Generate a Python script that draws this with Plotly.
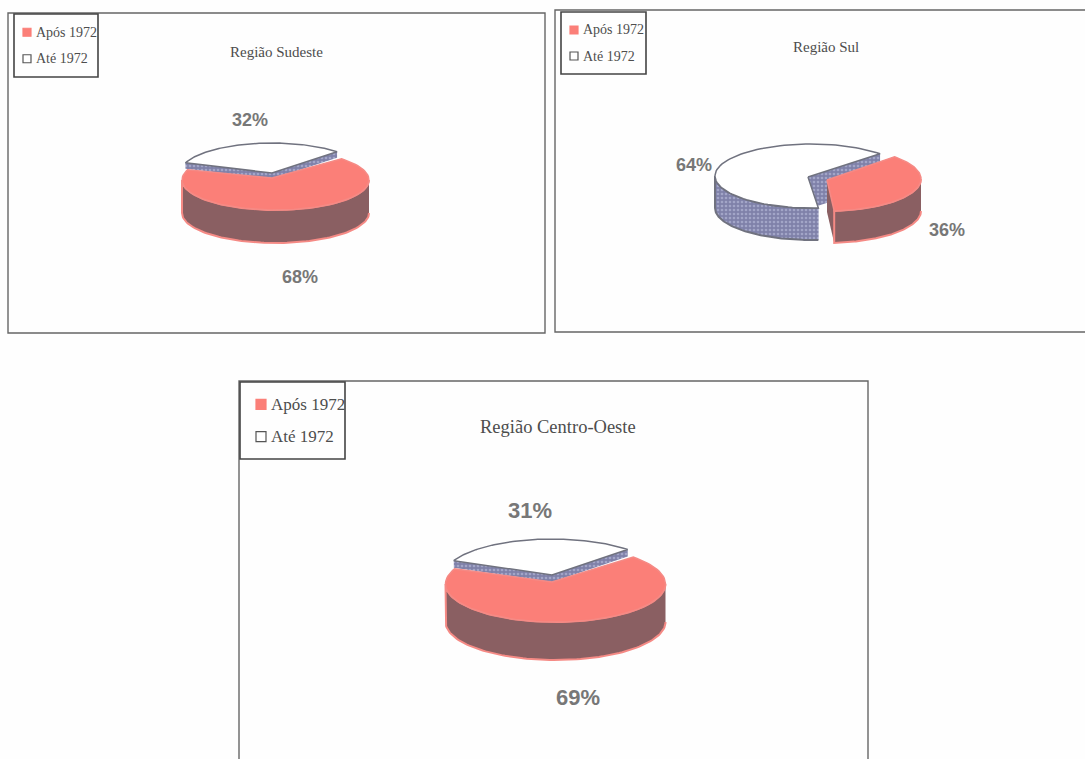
import numpy as np
import plotly.graph_objects as go

# ---- data ----
regions = ["Região Sudeste", "Região Sul", "Região Centro-Oeste"]
series_names = ["Após 1972", "Até 1972"]
apos_1972 = [68, 36, 69]
ate_1972 = [32, 64, 31]

# ---- layout of each panel (pixels of the page) ----
panels = [
    dict(box=(8, 13, 545, 333), legend=(14, 14, 98, 77), title=(276, 52, 15), legend_font=14,
         sw_x=27, text_x=34, sw_size=8,
         red=(275.5, 180, 93.5, 30), red_v=(272, 178), white=(272, 173, 92, 30), white_v=(272, 173),
         depth=33, white_depth=6,
         start=45, lab_red=(300, 277), lab_white=(250, 120), lab_font=18),
    dict(box=(555, 10, 1090, 332), legend=(561, 12, 646, 74), title=(826, 47, 15), legend_font=14,
         sw_x=574, text_x=581, sw_size=8,
         red=(827, 179, 94, 32), red_v=(827, 180), white=(811, 176, 96, 32), white_v=(808, 177),
         depth=32, white_depth=32,
         start=46, lab_red=(947, 230), lab_white=(694, 165), lab_font=18),
    dict(box=(239, 381, 868, 770), legend=(240, 382, 345, 459), title=(558, 427, 18.5), legend_font=17,
         sw_x=261, text_x=269, sw_size=10,
         red=(555.5, 584, 110, 38), red_v=(552, 582), white=(552, 575, 107, 36), white_v=(552, 575),
         depth=38, white_depth=7,
         start=45, lab_red=(578, 697), lab_white=(530, 510), lab_font=22),
]

RED_TOP = "#fb7f78"
RED_SIDE = "#8a5f62"
RED_EDGE = "#f58a85"
BLUE = "#7f81a9"
DOT = "#c6c9e6"
TEXT = "#4d4d4d"
LABEL = "#777777"
FONT = "Liberation Serif"


def arc(g, a, b, dy=0.0, n=90):
    cx, cy, rx, ry = g
    t = np.radians(np.linspace(a, b, n))
    return cx + rx * np.sin(t), cy - ry * np.cos(t) + dy


def poly(fig, x, y, fill, line=None, width=0, pattern=None):
    fig.add_trace(go.Scatter(
        x=list(x), y=list(y), mode="lines", fill="toself", fillcolor=fill,
        line=dict(color=line or fill, width=width), fillpattern=pattern,
        hoverinfo="skip", showlegend=False))


def slice3d(fig, g, v, a, b, depth, top, side, edge, pattern=None, top_width=1.5):
    vx, vy = v
    # two cut faces
    for ang in (a, b):
        ex, ey = arc(g, ang, ang, n=1)
        poly(fig, [vx, vx, ex[0], ex[0], vx], [vy, vy + depth, ey[0] + depth, ey[0], vy], side, pattern=pattern)
    # outer wall: only the front half of the ellipse is seen
    for k in (0, 1):
        lo = max(a, 90 + 360 * k)
        hi = min(b, 270 + 360 * k)
        if lo < hi:
            x1, y1 = arc(g, lo, hi)
            x2, y2 = arc(g, hi, lo, dy=depth)
            poly(fig, np.r_[x1, x2], np.r_[y1, y2], side, line=edge, width=2, pattern=pattern)
    # top
    x, y = arc(g, a, b)
    poly(fig, np.r_[vx, x, vx], np.r_[vy, y, vy], top, line=edge, width=top_width)


fig = go.Figure()
shapes, notes = [], []

for name, v_red, v_white, p in zip(regions, apos_1972, ate_1972, panels):
    total = v_red + v_white
    red_span = 360 * v_red / total
    a_red = p["start"]
    b_red = a_red + red_span
    b_white = a_red + 360

    pattern = dict(shape=".", bgcolor=BLUE, fgcolor=DOT, size=4, solidity=0.35)
    slice3d(fig, p["white"], p["white_v"], b_red, b_white, p["white_depth"], "#ffffff", BLUE, "#70727f", pattern)
    slice3d(fig, p["red"], p["red_v"], a_red, b_red, p["depth"], RED_TOP, RED_SIDE, RED_EDGE)

    x0, y0, x1, y1 = p["box"]
    shapes.append(dict(type="rect", x0=x0, y0=y0, x1=x1, y1=y1, xref="x", yref="y",
                       line=dict(color="#666666", width=1.4), layer="below"))
    lx0, ly0, lx1, ly1 = p["legend"]
    shapes.append(dict(type="rect", x0=lx0, y0=ly0, x1=lx1, y1=ly1, xref="x", yref="y",
                       line=dict(color="#444444", width=1.6), layer="below"))

    tx, ty, tf = p["title"]
    notes.append(dict(x=tx, y=ty, text=name, showarrow=False, xanchor="center", yanchor="middle",
                      font=dict(family=FONT, size=tf, color=TEXT)))

    lh = ly1 - ly0
    fs = p["legend_font"]
    ys = [ly0 + lh * 0.29, ly0 + lh * 0.71]
    fig.add_trace(go.Scatter(
        x=[p["sw_x"], p["sw_x"]], y=ys, mode="markers", hoverinfo="skip", showlegend=False,
        marker=dict(symbol="square", size=p["sw_size"], color=[RED_TOP, "#ffffff"],
                    line=dict(color=[RED_TOP, "#555555"], width=1.2))))
    for yy, s in zip(ys, series_names):
        notes.append(dict(x=p["text_x"], y=yy, text=s, showarrow=False, xanchor="left", yanchor="middle",
                          font=dict(family=FONT, size=fs, color=TEXT)))

    for (lx, ly), v in ((p["lab_red"], v_red), (p["lab_white"], v_white)):
        notes.append(dict(x=lx, y=ly, text=f"<b>{v}%</b>", showarrow=False, xanchor="center", yanchor="middle",
                          font=dict(family="Liberation Sans", size=p["lab_font"], color=LABEL)))

fig.update_layout(
    width=1085, height=759, margin=dict(l=0, r=0, t=0, b=0),
    paper_bgcolor="#fefefe", plot_bgcolor="#fefefe", showlegend=False,
    xaxis=dict(range=[0, 1085], visible=False, fixedrange=True),
    yaxis=dict(range=[759, 0], visible=False, fixedrange=True),
    shapes=shapes, annotations=notes,
)
fig.write_html("out.html", config={"displayModeBar": False},
               post_script="document.body.style.margin='0';document.body.style.overflow='hidden';")
